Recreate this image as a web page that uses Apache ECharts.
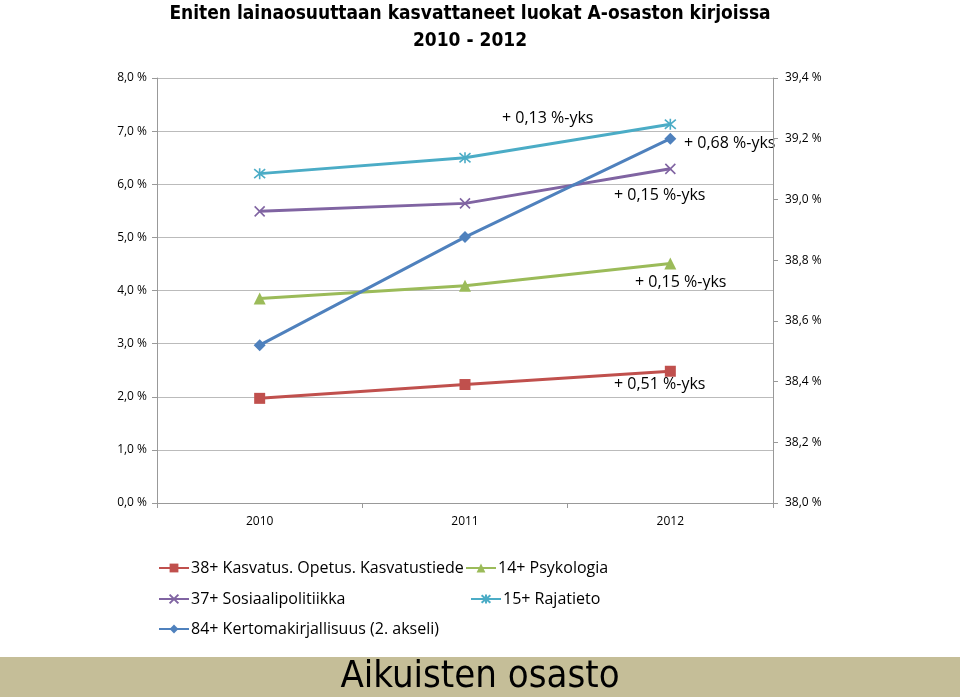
<!DOCTYPE html>
<html><head><meta charset="utf-8">
<script src="https://cdn.jsdelivr.net/npm/echarts@6/dist/echarts.min.js"></script>
<style>html,body{margin:0;padding:0;background:#fff}#c{width:960px;height:697px}</style>
</head><body><div id="c"></div>
<script>
var categories = ['2010', '2011', '2012'];
var kasvatus = [1.97, 2.23, 2.48];
var psykologia = [3.85, 4.09, 4.51];
var sosiaali = [5.49, 5.64, 6.29];
var rajatieto = [6.20, 6.50, 7.13];
var kertoma = [38.52, 38.876, 39.20];
var names = ['38+ Kasvatus. Opetus. Kasvatustiede', '14+ Psykologia', '37+ Sosiaalipolitiikka', '15+ Rajatieto', '84+ Kertomakirjallisuus (2. akseli)'];
var annotations = ['+ 0,13 %-yks', '+ 0,68 %-yks', '+ 0,15 %-yks', '+ 0,15 %-yks', '+ 0,51 %-yks'];

var FONT = 'Open Sans, Liberation Sans, sans-serif';
var NARROW = 'Liberation Sans Narrow, DejaVu Sans Condensed, sans-serif';
var xSym = 'path://M0,0L10,10M10,0L0,10';
var aSym = 'path://M0,0L10,10M10,0L0,10M5,-1L5,11';
function fmt(d){ return function(v){ return v.toFixed(d).replace('.', ',') + ' %'; }; }

function lineSeries(name, data, color, symbol, size, yIdx, stroke){
  return {
    name: name, type: 'line', data: data, yAxisIndex: yIdx || 0,
    symbol: symbol, symbolSize: size, showAllSymbol: true,
    lineStyle: {color: color, width: 3},
    itemStyle: stroke ? {color: 'rgba(0,0,0,0)', borderColor: color, borderWidth: 1.6} : {color: color},
    color: color, z: 3
  };
}
function legendAt(name, left, top){
  return {data: [name], left: left, top: top, padding: 0, itemWidth: 30, itemHeight: 11, itemGap: 4,
    textStyle: {fontFamily: FONT, fontSize: 16, color: '#000', padding: [0, 0, 0, -3]}, selectedMode: false};
}
var chart = echarts.init(document.getElementById('c'));
chart.setOption({
  animation: false,
  title: {text: 'Eniten lainaosuuttaan kasvattaneet luokat A-osaston kirjoissa\n2010 - 2012',
    left: 465, top: -4, textAlign: 'center',
    textStyle: {fontFamily: NARROW, fontWeight: 'bold', fontSize: 19, lineHeight: 27, color: '#000'}},
  grid: {left: 157, right: 187, top: 78, bottom: 194},
  xAxis: {type: 'category', data: categories, boundaryGap: true,
    axisLine: {lineStyle: {color: '#999'}}, axisTick: {show: true, length: 5, lineStyle: {color: '#999'}},
    axisLabel: {fontFamily: FONT, fontSize: 12, color: '#000', margin: 13}},
  yAxis: [
    {type: 'value', min: 0, max: 8, interval: 1,
      axisLine: {show: true, lineStyle: {color: '#999'}}, axisTick: {show: true, length: 5, lineStyle: {color: '#999'}},
      splitLine: {lineStyle: {color: '#bbb'}},
      axisLabel: {formatter: fmt(1), fontFamily: FONT, fontSize: 12, color: '#000', margin: 10}},
    {type: 'value', min: 38, max: 39.4, interval: 0.2, position: 'right',
      axisLine: {show: true, lineStyle: {color: '#999'}}, axisTick: {show: true, length: 5, lineStyle: {color: '#999'}},
      splitLine: {show: false},
      axisLabel: {formatter: fmt(1), fontFamily: FONT, fontSize: 12, color: '#000', margin: 12}}
  ],
  legend: [
    legendAt(names[0], 158, 560),
    legendAt(names[1], 465, 560),
    legendAt(names[2], 158, 591),
    legendAt(names[3], 470, 591),
    legendAt(names[4], 158, 621)
  ],
  series: [
    lineSeries(names[0], kasvatus, '#C0504D', 'rect', 11, 0, false),
    lineSeries(names[1], psykologia, '#9BBB59', 'triangle', 12, 0, false),
    lineSeries(names[2], sosiaali, '#8064A2', xSym, 10, 0, true),
    lineSeries(names[3], rajatieto, '#4BACC6', aSym, 11, 0, true),
    lineSeries(names[4], kertoma, '#4F81BD', 'diamond', 12, 1, false)
  ],
  graphic: [
    {type: 'text', left: 502, top: 110, style: {text: annotations[0], font: '16px ' + FONT, fill: '#000'}},
    {type: 'text', left: 684, top: 135, style: {text: annotations[1], font: '16px ' + FONT, fill: '#000'}},
    {type: 'text', left: 614, top: 187, style: {text: annotations[2], font: '16px ' + FONT, fill: '#000'}},
    {type: 'text', left: 635, top: 274, style: {text: annotations[3], font: '16px ' + FONT, fill: '#000'}},
    {type: 'text', left: 614, top: 376, style: {text: annotations[4], font: '16px ' + FONT, fill: '#000'}},
    {type: 'rect', left: 0, top: 657, shape: {width: 960, height: 40}, style: {fill: '#C5BE98'}, z: -1},
    {type: 'text', left: 'center', top: 658, style: {text: 'Aikuisten osasto', font: '38px ' + NARROW, fill: '#000'}}
  ]
});
</script></body></html>
